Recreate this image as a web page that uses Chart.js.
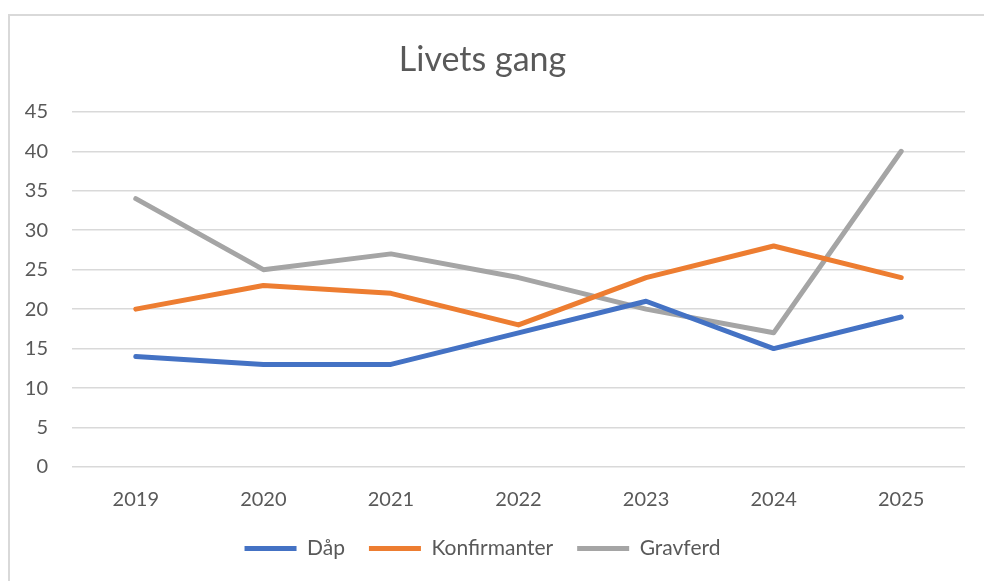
<!DOCTYPE html>
<html>
<head>
<meta charset="utf-8">
<script src="https://cdn.jsdelivr.net/npm/chart.js@4"></script>
<style>
  html, body { margin: 0; padding: 0; background: #fff; }
  #wrap { position: relative; width: 984px; height: 581px; }
  #frame { position: absolute; left: 8px; top: 14px; width: 990px; height: 600px;
           border-left: 2px solid #d9d9d9; border-top: 2px solid #d9d9d9; }
  #box { position: absolute; left: 0; top: 0; width: 984px; height: 581px; }
</style>
</head>
<body>
<div id="wrap">
  <div id="frame"></div>
  <div id="box"><canvas id="my-chart"></canvas></div>
</div>
<script>
const years = ['2019', '2020', '2021', '2022', '2023', '2024', '2025'];
const daap = [14, 13, 13, 17, 21, 15, 19];
const konfirmanter = [20, 23, 22, 18, 24, 28, 24];
const gravferd = [34, 25, 27, 24, 20, 17, 40];

const textColor = '#595959';
const fontName = 'Lato, "Open Sans", sans-serif';

function line(label, data, color) {
  return {
    label: label,
    data: data,
    borderColor: color,
    backgroundColor: color,
    borderWidth: 5,
    borderCapStyle: 'round',
    borderJoinStyle: 'round',
    pointRadius: 0,
    pointHoverRadius: 0,
    pointStyle: 'line',
    tension: 0
  };
}

const ctx = document.getElementById('my-chart').getContext('2d');
const chart = new Chart(ctx, {
  type: 'line',
  data: {
    labels: years,
    datasets: [
      line('Dåp', daap, '#4472C4'),
      line('Konfirmanter', konfirmanter, '#ED7D31'),
      line('Gravferd', gravferd, '#A5A5A5')
    ]
  },
  options: {
    responsive: true,
    maintainAspectRatio: false,
    animation: false,
    layout: { padding: { left: 0, right: 19, top: 26, bottom: 12 } },
    plugins: {
      title: {
        display: true,
        text: 'Livets gang',
        color: textColor,
        font: { family: fontName, size: 34, weight: 'normal' },
        padding: { top: 14, bottom: 31 }
      },
      legend: {
        position: 'bottom',
        labels: {
          usePointStyle: true,
          pointStyleWidth: 52,
          color: textColor,
          font: { family: fontName, size: 21 },
          padding: 24
        }
      },
      tooltip: { enabled: false }
    },
    scales: {
      x: {
        offset: true,
        afterFit: (scale) => { scale.height -= 19; },
        grid: { display: false, drawTicks: false },
        border: { display: false },
        ticks: { color: textColor, font: { family: fontName, size: 20 }, padding: 21 }
      },
      y: {
        min: 0,
        max: 45,
        afterFit: (scale) => { scale.width = 72; },
        grid: { color: '#d9d9d9', lineWidth: 1.5, drawTicks: false },
        border: { display: false },
        ticks: { stepSize: 5, color: textColor, font: { family: fontName, size: 20 }, padding: 24 }
      }
    }
  }
});
</script>
</body>
</html>
